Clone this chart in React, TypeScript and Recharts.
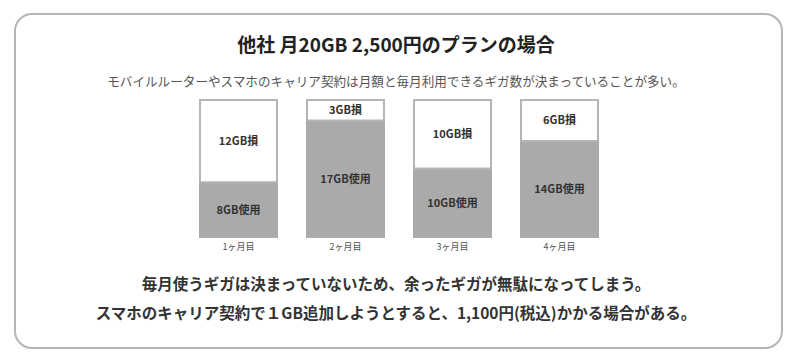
import React from "react";
import { BarChart, Bar, XAxis, YAxis, LabelList } from "recharts";

const months = ["1ヶ月目", "2ヶ月目", "3ヶ月目", "4ヶ月目"];
const usedGB = [8, 17, 10, 14];
const lossGB = [12, 3, 10, 6];

const title = "他社 月20GB 2,500円のプランの場合";
const subtitle = "モバイルルーターやスマホのキャリア契約は月額と毎月利用できるギガ数が決まっていることが多い。";
const note1 = "毎月使うギガは決まっていないため、余ったギガが無駄になってしまう。";
const note2 = "スマホのキャリア契約で１GB追加しようとすると、1,100円(税込)かかる場合がある。";

const data = months.map((m, i) => ({ month: m, used: usedGB[i], loss: lossGB[i] }));

const FONT = "'Noto Sans CJK JP', 'Noto Sans', sans-serif";

export default function App() {
  return (
    <div
      style={{
        position: "absolute",
        left: 0,
        top: 0,
        width: 792,
        height: 356,
        background: "#ffffff",
        fontFamily: FONT,
        overflow: "hidden",
      }}
    >
      <div
        style={{
          position: "absolute",
          left: 14,
          top: 13,
          width: 769,
          height: 336,
          boxSizing: "border-box",
          border: "2px solid #b5b5b5",
          borderRadius: 18,
        }}
      />
      <div
        style={{
          position: "absolute",
          left: 0,
          width: 792,
          top: 32,
          textAlign: "center",
          fontSize: 19,
          fontWeight: "bold",
          color: "#222",
          lineHeight: "24px",
        }}
      >
        {title}
      </div>
      <div
        style={{
          position: "absolute",
          left: 0,
          width: 792,
          top: 73,
          textAlign: "center",
          fontSize: 12.6,
          color: "#555",
          lineHeight: "16px",
        }}
      >
        {subtitle}
      </div>
      <div style={{ position: "absolute", left: 0, top: 0 }}>
        <BarChart
          width={792}
          height={356}
          data={data}
          margin={{ top: 100, right: 179, bottom: 89, left: 185 }}
        >
          <XAxis
            dataKey="month"
            axisLine={false}
            tickLine={false}
            tickSize={0}
            tickMargin={7}
            height={30}
            tick={{ fontSize: 9, fill: "#555", fontFamily: FONT }}
            interval={0}
          />
          <YAxis hide domain={[0, 20]} />
          <Bar
            dataKey="used"
            stackId="a"
            fill="#aaaaaa"
            stroke="#aaaaaa"
            strokeWidth={2}
            barSize={77}
            isAnimationActive={false}
          >
            <LabelList
              dataKey="used"
              position="center"
              formatter={(v: any) => `${v}GB使用`}
              fill="#333"
              fontSize={11}
              fontWeight="bold"
              fontFamily={FONT}
            />
          </Bar>
          <Bar
            dataKey="loss"
            stackId="a"
            fill="#ffffff"
            stroke="#b5b5b5"
            strokeWidth={2}
            barSize={77}
            isAnimationActive={false}
          >
            <LabelList
              dataKey="loss"
              position="center"
              formatter={(v: any) => `${v}GB損`}
              fill="#333"
              fontSize={11}
              fontWeight="bold"
              fontFamily={FONT}
            />
          </Bar>
        </BarChart>
      </div>
      <div
        style={{
          position: "absolute",
          left: 0,
          width: 792,
          top: 273,
          textAlign: "center",
          fontSize: 15.5,
          fontWeight: "bold",
          color: "#333",
          lineHeight: "20px",
        }}
      >
        {note1}
      </div>
      <div
        style={{
          position: "absolute",
          left: 0,
          width: 792,
          top: 302,
          textAlign: "center",
          fontSize: 15.5,
          fontWeight: "bold",
          color: "#333",
          lineHeight: "20px",
        }}
      >
        {note2}
      </div>
    </div>
  );
}
